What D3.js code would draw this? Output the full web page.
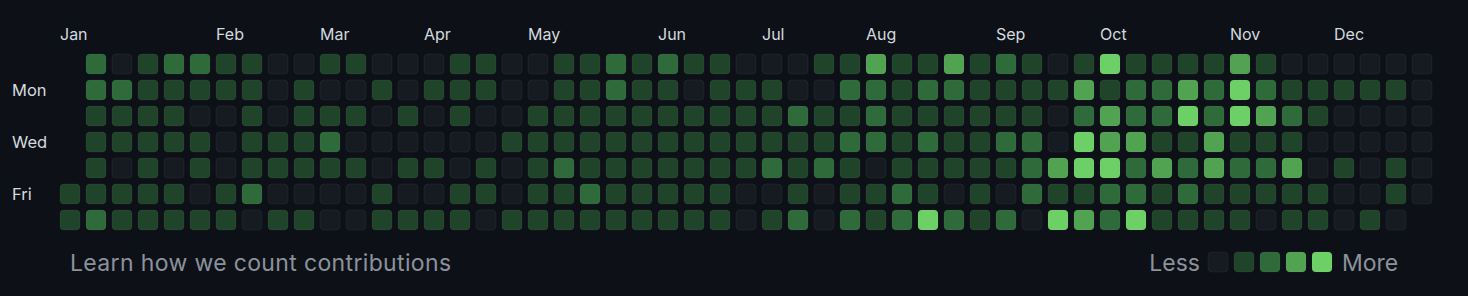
<!DOCTYPE html>
<html lang="en">
<head>
<meta charset="utf-8">
<title>Contributions</title>
<script src="https://cdn.jsdelivr.net/npm/d3@7/dist/d3.min.js"></script>
<style>
  html, body { margin: 0; padding: 0; background: #0d1117; }
  text { font-family: Inter, "Noto Sans", sans-serif; }
</style>
</head>
<body>
<script>
// contribution levels (0-4), one array per weekday, one entry per week; null = no day
var sun = [null,2,0,1,2,2,1,1,0, 0,1,1,0,0,0,1,1,0, 0,1,1,2,1,2,1,1,0, 0,0,1,1,3,1,1,3,1, 2,1,0,1,4,1,1,1,1, 3,1,0,0,0,0,0,0];
var mon = [null,2,2,1,1,1,1,1,0, 1,0,0,1,0,1,1,1,0, 0,1,1,2,1,1,0,1,1, 1,0,0,2,2,1,2,2,1, 1,1,1,3,1,2,2,3,2, 4,2,1,1,1,1,1,0];
var tue = [null,1,1,1,1,0,0,1,0, 1,1,1,0,1,0,1,0,0, 1,1,1,1,1,1,1,1,1, 1,2,1,1,2,1,1,1,1, 1,1,0,2,3,2,2,4,2, 4,3,2,1,0,0,0,0];
var wed = [null,1,1,1,1,1,0,1,1, 1,2,0,0,0,0,0,0,1, 1,1,1,1,1,1,1,1,1, 1,1,1,2,2,1,2,1,1, 2,2,0,4,3,3,1,1,3, 1,1,1,0,0,0,0,0];
var thu = [null,1,0,1,0,1,0,1,1, 1,1,1,0,1,1,0,1,0, 1,2,1,1,1,1,1,1,1, 2,1,2,1,0,1,1,1,1, 1,2,3,4,4,2,3,2,3, 2,2,3,0,1,0,1,0];
var fri = [1,1,1,1,1,0,1,2,0, 0,0,0,1,0,0,1,1,0, 1,1,2,1,1,1,1,1,0, 0,1,0,1,1,2,1,0,1, 0,2,1,1,2,2,1,2,1, 1,1,1,1,0,0,1,0];
var sat = [1,2,1,1,1,1,1,0,1, 1,0,0,1,1,1,1,0,1, 1,1,1,1,1,1,1,1,0, 1,2,0,2,1,2,4,2,1, 2,0,4,3,2,4,1,1,1, 1,0,1,1,0,1,0,null];

var months = ["Jan","Feb","Mar","Apr","May","Jun","Jul","Aug","Sep","Oct","Nov","Dec"];
var monthWeek = [0,6,10,14,18,23,27,31,36,40,45,49];
var dayLabels = ["Mon","Wed","Fri"];
var dayLabelRow = [1,3,5];
var legendLevels = [0,1,2,3,4];

var W = 1468, H = 296;
var rows = [sun, mon, tue, wed, thu, fri, sat];
var nWeeks = sun.length;
var cell = 20, pitch = 26;

var x = d3.scaleLinear().domain([0, nWeeks]).range([60, 60 + pitch * nWeeks]);
var y = d3.scaleLinear().domain([0, 7]).range([54, 54 + pitch * 7]);
var color = d3.scaleOrdinal()
    .domain([0,1,2,3,4])
    .range(["#161b22", "#1f4429", "#2e6a3a", "#51a352", "#6dd066"]);

var svg = d3.select("body").append("svg")
    .attr("width", W)
    .attr("height", H);

var cells = [];
rows.forEach(function(r, ri) {
  r.forEach(function(v, wi) {
    if (v !== null) cells.push({ week: wi, day: ri, level: v });
  });
});

svg.append("g").selectAll("rect")
    .data(cells)
  .enter().append("rect")
    .attr("x", function(d) { return x(d.week); })
    .attr("y", function(d) { return y(d.day); })
    .attr("width", cell)
    .attr("height", cell)
    .attr("rx", 4)
    .attr("fill", function(d) { return color(d.level); })
    .attr("stroke", "rgba(255,255,255,0.05)")
    .attr("stroke-width", 1);

// month labels
svg.append("g").selectAll("text")
    .data(months)
  .enter().append("text")
    .attr("x", function(d, i) { return x(monthWeek[i]); })
    .attr("y", 40)
    .attr("fill", "#d4d9df")
    .style("font-size", "16px")
    .text(function(d) { return d; });

// weekday labels
svg.append("g").selectAll("text")
    .data(dayLabels)
  .enter().append("text")
    .attr("x", 12)
    .attr("y", function(d, i) { return y(dayLabelRow[i]) + cell / 2; })
    .attr("dy", "0.38em")
    .attr("fill", "#d4d9df")
    .style("font-size", "16.5px")
    .text(function(d) { return d; });

// footer
svg.append("text")
    .attr("x", 70)
    .attr("y", 271)
    .attr("fill", "#8b929c")
    .style("font-size", "23px")
    .style("letter-spacing", "0.35px")
    .text("Learn how we count contributions");

var lx = d3.scaleLinear().domain([0, 5]).range([1208, 1208 + pitch * 5]);
svg.append("text")
    .attr("x", 1200)
    .attr("y", 271)
    .attr("text-anchor", "end")
    .attr("fill", "#8b929c")
    .style("font-size", "23px")
    .text("Less");

svg.append("g").selectAll("rect")
    .data(legendLevels)
  .enter().append("rect")
    .attr("x", function(d) { return lx(d); })
    .attr("y", 252)
    .attr("width", cell)
    .attr("height", cell)
    .attr("rx", 4)
    .attr("fill", function(d) { return color(d); })
    .attr("stroke", "rgba(255,255,255,0.05)");

svg.append("text")
    .attr("x", 1342)
    .attr("y", 271)
    .attr("fill", "#8b929c")
    .style("font-size", "23px")
    .text("More");
</script>
</body>
</html>
